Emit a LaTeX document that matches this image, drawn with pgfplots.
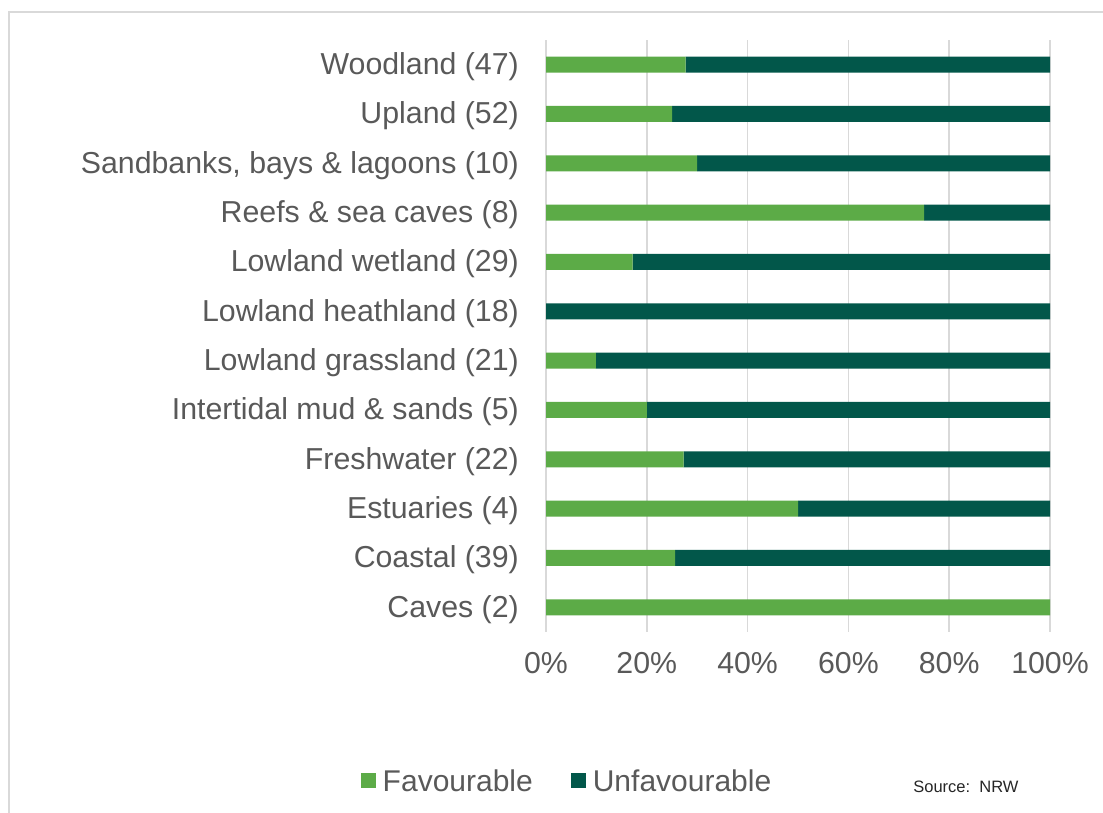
\documentclass[border=0pt]{standalone}
\usepackage{fontspec}
\setmainfont{Liberation Sans}
\usepackage{pgfplots}
\pgfplotsset{compat=1.18}
\definecolor{fav}{HTML}{5CAB47}
\definecolor{unfav}{HTML}{02574A}
\definecolor{txt}{HTML}{595959}
\definecolor{gridc}{HTML}{D9D9D9}
\begin{document}
\begin{tikzpicture}[x=1pt,y=1pt]
\useasboundingbox (0,0) rectangle (1103,813);
\draw[gridc, line width=2pt] (9,0) -- (9,801) -- (1103,801);
\begin{axis}[
  at={(546pt,181pt)}, anchor=south west,
  scale only axis, width=504pt, height=592pt,
  xbar stacked, bar width=16pt,
  xmin=0, xmax=100, ymin=-0.5, ymax=11.5,
  xtick={0,20,...,100},
  xticklabels={0\%,20\%,40\%,60\%,80\%,100\%},
  ytick={0,...,11},
  yticklabels={Caves (2), Coastal (39), Estuaries (4), Freshwater (22),
    Intertidal mud \& sands (5), Lowland grassland (21), Lowland heathland (18),
    Lowland wetland (29), Reefs \& sea caves (8), {Sandbanks, bays \& lagoons (10)},
    Upland (52), Woodland (47)},
  xmajorgrids, major grid style={gridc, line width=1.5pt},
  axis line style={draw=none}, major tick length=0pt,
  tick label style={font=\fontsize{30.3}{35}\selectfont, text=txt, inner sep=0pt},
  yticklabel style={anchor=east, xshift=-27pt, yshift=-2pt},
  xticklabel style={anchor=north, yshift=-20pt},
  legend style={at={(axis description cs:0.0417,-0.2517)}, anchor=center,
    draw=none, fill=none, legend columns=2, text=txt,
    font=\fontsize{30}{35}\selectfont,
    /tikz/every odd column/.append style={column sep=5pt},
    /tikz/every even column/.append style={column sep=36pt}},
  legend image code/.code={\fill[#1] (0pt,-7.5pt) rectangle (15pt,7.5pt);},
]
\addplot[fill=fav, draw=none] coordinates {
  (100,0) (25.6,1) (50,2) (27.3,3) (20,4) (9.9,5)
  (0,6) (17.2,7) (75,8) (30,9) (25,10) (27.7,11)
};
\addplot[fill=unfav, draw=none] coordinates {
  (0,0) (74.4,1) (50,2) (72.7,3) (80,4) (90.1,5)
  (100,6) (82.8,7) (25,8) (70,9) (75,10) (72.3,11)
};
\legend{Favourable, Unfavourable}
\end{axis}
\node[anchor=east, font=\fontsize{16.5}{19}\selectfont, text=black!85] at (1022,26) {Source:\ \ NRW};
\end{tikzpicture}
\end{document}
